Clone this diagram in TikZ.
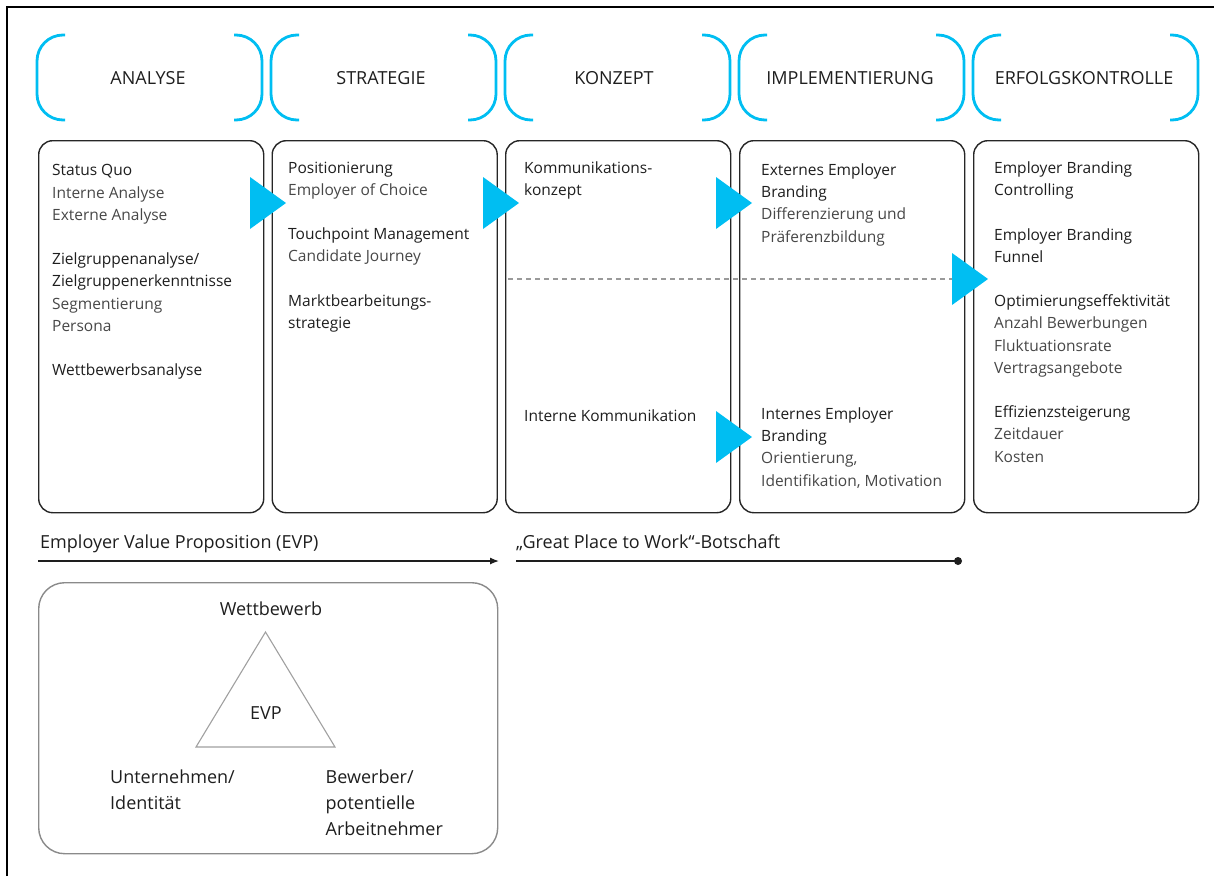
\documentclass[tikz,border=0pt]{standalone}
\usepackage{fontspec}
\setmainfont{Open Sans}
\usetikzlibrary{arrows.meta}
\definecolor{brandcyan}{RGB}{0,190,242}
\definecolor{headc}{HTML}{1E1E1E}
\definecolor{subc}{HTML}{474747}
\definecolor{boxline}{HTML}{262626}
\definecolor{evpgray}{HTML}{8A8A8A}
\definecolor{trigray}{HTML}{A0A0A0}
\definecolor{dashgray}{HTML}{9A9A9A}
\newcommand{\sub}[1]{\textcolor{subc}{#1}}

\begin{document}
\begin{tikzpicture}[x=1pt,y=-1pt,
  bracket/.style={draw=brandcyan, line width=2.8pt, rounded corners=26pt},
  stagebox/.style={draw=boxline, line width=1.4pt, rounded corners=14pt,
    minimum width=225pt, minimum height=372pt, anchor=north west, inner sep=0pt},
  stagetitle/.style={font=\fontsize{18}{22}\selectfont, text=headc, anchor=base, inner sep=0pt},
  boxtext/.style={font=\fontsize{15.5}{22.2}\selectfont, text=headc, align=left,
    anchor=north west, inner sep=0pt, execute at begin node=\strut},
  flowmark/.style={fill=brandcyan},
  bottomlabel/.style={font=\fontsize{18}{24}\selectfont, text=headc, anchor=base west, inner sep=0pt},
  bottomline/.style={draw=headc, line width=1.3pt},
  evptext/.style={font=\fontsize{18}{26}\selectfont, text=headc, align=left,
    anchor=north west, inner sep=0pt, execute at begin node=\strut},
]
\useasboundingbox (0,0) rectangle (1214,876);

% outer frame (top and left edges)
\draw[line width=1.5pt, black] (7,876) -- (7,7) -- (1214,7);

% cyan brackets framing each stage title
\foreach \l/\r in {37/262, 271/496, 505/730, 739/964, 973/1198} {
  \draw[bracket] (\l+28,35) -- (\l,35) -- (\l,120) -- (\l+28,120);
  \draw[bracket] (\r-28,35) -- (\r,35) -- (\r,120) -- (\r-28,120);
}

% stage titles
\node[stagetitle] (tAnalyse)  at (148,84)  {ANALYSE};
\node[stagetitle] (tStrategie) at (381,84) {STRATEGIE};
\node[stagetitle] (tKonzept)  at (614,84)  {KONZEPT};
\node[stagetitle] (tImpl)     at (850,84)  {IMPLEMENTIERUNG};
\node[stagetitle] (tErfolg)   at (1084,84) {ERFOLGSKONTROLLE};

% stage boxes
\node[stagebox] (box1) at (38,140)    {};
\node[stagebox] (box2) at (271.5,140) {};
\node[stagebox] (box3) at (505,140)   {};
\node[stagebox] (box4) at (739,140)   {};
\node[stagebox] (box5) at (973,140)   {};

% divider between external and internal communication
\coordinate (divL) at (508,279);
\coordinate (divR) at (953,279);
\draw[draw=dashgray, line width=1.3pt, dash pattern=on 5pt off 4pt] (divL) -- (divR);

% box contents
\node[boxtext] (txt1) at (52,164.5) {Status Quo\\
  \sub{Interne Analyse}\\
  \sub{Externe Analyse}\\[22.2pt]
  Zielgruppenanalyse/\\
  Zielgruppenerkenntnisse\\
  \sub{Segmentierung}\\
  \sub{Persona}\\[22.2pt]
  Wettbewerbsanalyse};

\node[boxtext] (txt2) at (288,161.5) {Positionierung\\
  \sub{Employer of Choice}\\[22.2pt]
  Touchpoint Management\\
  \sub{Candidate Journey}\\[22.2pt]
  Marktbearbeitungs-\\
  strategie};

\node[boxtext] (txt3a) at (524,161.5) {Kommunikations-\\konzept};
\node[boxtext] (txt3b) at (524,405.5) {Interne Kommunikation};

\node[boxtext] (txt4a) at (761,163.5) {Externes Employer\\
  Branding\\
  \sub{Differenzierung und}\\
  \sub{Präferenzbildung}};
\node[boxtext] (txt4b) at (761,407.5) {Internes Employer\\
  Branding\\
  \sub{Orientierung,}\\
  \sub{Identifikation, Motivation}};

\node[boxtext] (txt5) at (994,161.5) {Employer Branding\\
  Controlling\\[22.2pt]
  Employer Branding\\
  Funnel\\[22.2pt]
  Optimierungseffektivität\\
  \sub{Anzahl Bewerbungen}\\
  \sub{Fluktuationsrate}\\
  \sub{Vertragsangebote}\\[22.2pt]
  Effizienzsteigerung\\
  \sub{Zeitdauer}\\
  \sub{Kosten}};

% cyan flow markers between the stages
\foreach \tx/\ty in {286/203, 519/203, 752/203, 988/279, 752/437} {
  \fill[flowmark] (\tx-36,\ty-26) -- (\tx,\ty) -- (\tx-36,\ty+26) -- cycle;
}

% bottom timelines
\node[bottomlabel] (lblEVP) at (40,548) {Employer Value Proposition (EVP)};
\node[bottomlabel] (lblGPW) at (516,548) {„Great Place to Work“-Botschaft};
\coordinate (evpStart) at (38,561);
\coordinate (evpEnd) at (499,561);
\draw[bottomline, -{Latex[length=9pt,width=7pt]}] (evpStart) -- (evpEnd);
\coordinate (gpwStart) at (516,561);
\node[circle, fill=headc, inner sep=0pt, minimum size=8pt] (gpwEnd) at (958,561) {};
\draw[bottomline] (gpwStart) -- (gpwEnd.center);

% EVP triangle panel
\node[draw=evpgray, line width=1.4pt, rounded corners=26pt, minimum width=459pt,
  minimum height=271pt, anchor=north west, inner sep=0pt] (evpbox) at (38,582) {};
\coordinate (triTop) at (265.5,632);
\coordinate (triRight) at (335,747);
\coordinate (triLeft) at (196,747);
\draw[draw=trigray, line width=1.1pt, line join=miter] (triTop) -- (triRight) -- (triLeft) -- cycle;
\node[font=\fontsize{18}{26}\selectfont, text=headc, anchor=base, inner sep=0pt] (wettb) at (271,615) {Wettbewerb};
\node[font=\fontsize{18}{26}\selectfont, text=headc, anchor=base, inner sep=0pt] (evpc) at (266,719) {EVP};
\node[evptext] (unt) at (110,769.8) {Unternehmen/\\Identität};
\node[evptext] (bew) at (325.5,769.8) {Bewerber/\\potentielle\\Arbeitnehmer};
\end{tikzpicture}
\end{document}
